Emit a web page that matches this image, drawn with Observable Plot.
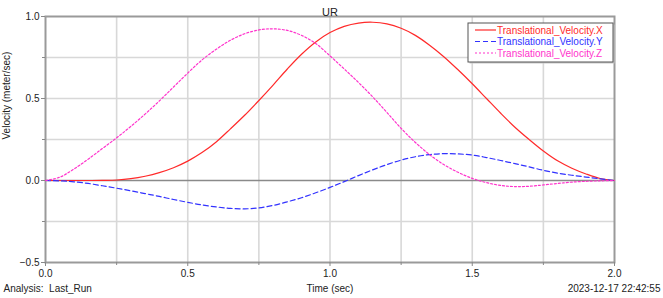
<!DOCTYPE html>
<html>
<head>
<meta charset="utf-8">
<script src="https://cdn.jsdelivr.net/npm/d3@7"></script>
<script src="https://cdn.jsdelivr.net/npm/@observablehq/plot@0.6"></script>
<style>
  html, body { margin: 0; padding: 0; background: #fff; }
  #chart { width: 663px; height: 298px; }
</style>
</head>
<body>
<div id="chart"></div>
<script>
const title = "UR";
const xLabel = "Time (sec)";
const yLabel = "Velocity (meter/sec)";
const footLeft = "Analysis:  Last_Run";
const footRight = "2023-12-17 22:42:55";
const seriesNames = ["Translational_Velocity.X", "Translational_Velocity.Y", "Translational_Velocity.Z"];
const seriesColors = ["#ff2a2a", "#3232ff", "#ff33cc"];
const seriesDash = ["none", "5,3", "2,2"];

const xTicks = [0, 0.5, 1.0, 1.5, 2.0];
const yTicks = [-0.5, 0, 0.5, 1.0];
const xGrid = [0.25, 0.5, 0.75, 1.0, 1.25, 1.5, 1.75];
const yGrid = [-0.25, 0.25, 0.5, 0.75];

const time = [0, 0.05, 0.1, 0.15, 0.2, 0.25, 0.3, 0.35, 0.4, 0.45, 0.5, 0.55, 0.6, 0.65, 0.7, 0.75, 0.8, 0.85, 0.9, 0.95,
  1.0, 1.05, 1.1, 1.15, 1.2, 1.25, 1.3, 1.35, 1.4, 1.45, 1.5, 1.55, 1.6, 1.65, 1.7, 1.75, 1.8, 1.85, 1.9, 1.95, 2.0];
const velX = [0, 0, 0, 0, 0.001, 0.003, 0.011, 0.026, 0.048, 0.078, 0.118, 0.17, 0.235, 0.315, 0.398, 0.488, 0.582, 0.68, 0.77, 0.845,
  0.902, 0.94, 0.96, 0.965, 0.955, 0.928, 0.885, 0.825, 0.755, 0.675, 0.59, 0.5, 0.41, 0.325, 0.25, 0.18, 0.12, 0.075, 0.04, 0.012, 0];
const velY = [0, -0.002, -0.008, -0.018, -0.032, -0.047, -0.063, -0.08, -0.097, -0.116, -0.133, -0.149, -0.161, -0.17, -0.173, -0.167, -0.152, -0.13, -0.105, -0.075,
  -0.042, -0.007, 0.03, 0.065, 0.097, 0.124, 0.145, 0.158, 0.164, 0.162, 0.155, 0.14, 0.122, 0.103, 0.083, 0.062, 0.045, 0.032, 0.021, 0.01, 0];
const velZ = [0, 0.02, 0.07, 0.13, 0.195, 0.26, 0.33, 0.405, 0.485, 0.57, 0.655, 0.735, 0.8, 0.855, 0.895, 0.918, 0.925, 0.915, 0.885, 0.835,
  0.76, 0.68, 0.598, 0.51, 0.415, 0.318, 0.232, 0.158, 0.097, 0.05, 0.013, -0.013, -0.03, -0.037, -0.035, -0.027, -0.018, -0.01, -0.005, -0.002, 0];

const seriesValues = [velX, velY, velZ];
const rows = seriesValues.map(vals => time.map((t, i) => ({t, v: vals[i]})));

const font = "'Liberation Sans', Arial, sans-serif";

const plot = Plot.plot({
  width: 663,
  height: 298,
  marginLeft: 45,
  marginRight: 49,
  marginTop: 16,
  marginBottom: 36,
  style: {fontFamily: font, fontSize: "10px", color: "#222", background: "#fff"},
  x: {domain: [0, 2], label: null},
  y: {domain: [-0.5, 1.0], label: null},
  marks: [
    Plot.gridX(xGrid, {stroke: "#d8d8d8", strokeOpacity: 1, strokeWidth: 1.6}),
    Plot.gridY(yGrid, {stroke: "#d8d8d8", strokeOpacity: 1, strokeWidth: 1.6}),
    Plot.ruleY([0], {stroke: "#8a8a8a", strokeWidth: 1.6}),
    Plot.frame({stroke: "#9a9a9a", strokeWidth: 2}),
    Plot.axisX(xTicks, {tickFormat: d3.format(".1f"), tickSize: 4, tickPadding: 3, stroke: "#888", fontSize: 10}),
    Plot.axisX(xGrid.filter(d => d % 0.5 !== 0), {tickFormat: () => "", tickSize: 3, stroke: "#888"}),
    Plot.axisY(yTicks, {tickFormat: d3.format(".1f"), tickSize: 4, tickPadding: 2, stroke: "#888", fontSize: 10}),
    Plot.axisY(yGrid.filter(d => d % 0.5 !== 0), {tickFormat: () => "", tickSize: 3, stroke: "#888"}),
    ...rows.map((r, i) => Plot.line(r, {x: "t", y: "v", stroke: seriesColors[i], strokeWidth: 1.2, strokeDasharray: seriesDash[i], curve: "catmull-rom"})),
    Plot.text([title], {frameAnchor: "top", dy: -8, fontSize: 11, fill: "#222"}),
    Plot.text([xLabel], {frameAnchor: "bottom", dy: 29, fontSize: 10, fill: "#222"}),
    Plot.text([footLeft], {frameAnchor: "bottom-left", dx: -42, dy: 29, textAnchor: "start", fontSize: 10, fill: "#222"}),
    Plot.text([footRight], {frameAnchor: "bottom-right", dx: 46, dy: 29, textAnchor: "end", fontSize: 10, fill: "#222"}),
    Plot.text([yLabel], {frameAnchor: "left", dx: -39, rotate: -90, fontSize: 10, fill: "#222"})
  ]
});

document.getElementById("chart").appendChild(plot);

// Legend box drawn inside the plot SVG
const svg = d3.select(plot);
const lg = svg.append("g").attr("font-family", font).attr("font-size", 10).attr("text-anchor", "start");
const bx = 468, by = 23, bw = 145, bh = 39;
lg.append("rect").attr("x", bx + 1.5).attr("y", by + 1.5).attr("width", bw).attr("height", bh).attr("fill", "#c8c8c8");
lg.append("rect").attr("x", bx).attr("y", by).attr("width", bw).attr("height", bh).attr("fill", "#fff").attr("stroke", "#555").attr("stroke-width", 1);
seriesNames.forEach((name, i) => {
  const yy = by + 7 + i * 11.5;
  lg.append("path").attr("d", `M${bx + 7},${yy}H${bx + 28}`)
    .attr("fill", "none")
    .attr("stroke", seriesColors[i]).attr("stroke-width", 1.2)
    .attr("stroke-dasharray", seriesDash[i] === "none" ? null : seriesDash[i]);
  lg.append("text").attr("x", bx + 29).attr("y", yy).attr("dy", "0.35em").attr("text-anchor", "start").attr("fill", seriesColors[i]).text(name);
});
</script>
</body>
</html>
